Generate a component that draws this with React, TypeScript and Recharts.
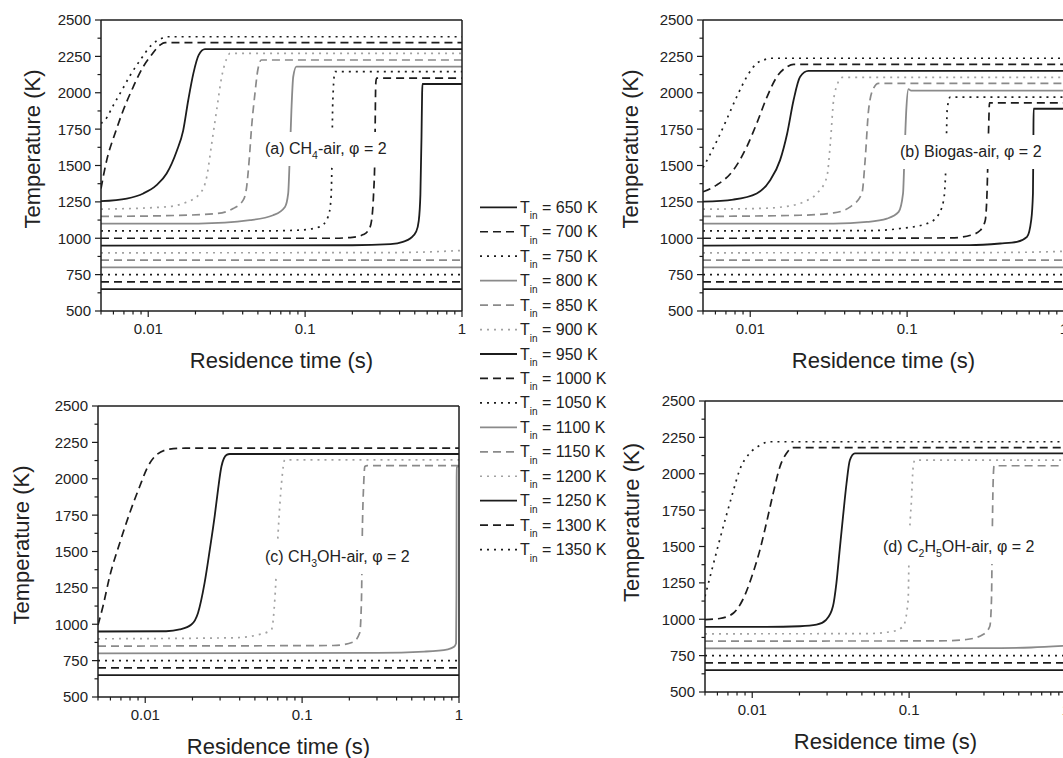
import { LineChart, Line, XAxis, YAxis, Label } from "recharts";

type Pt = [number, number];

// inlet temperatures, one curve each (K)
const T_IN = [650, 700, 750, 800, 850, 900, 950, 1000, 1050, 1100, 1150, 1200, 1250, 1300, 1350];

const X_TICKS = [
  0.005, 0.006, 0.007, 0.008, 0.009, 0.01, 0.02, 0.03, 0.04, 0.05, 0.06, 0.07, 0.08, 0.09,
  0.1, 0.2, 0.3, 0.4, 0.5, 0.6, 0.7, 0.8, 0.9, 1,
];
const X_LABELS = [0.01, 0.1, 1];
const Y_TICKS = [
  500, 625, 750, 875, 1000, 1125, 1250, 1375, 1500, 1625, 1750, 1875, 2000, 2125, 2250, 2375, 2500,
];
const Y_LABELS = [500, 750, 1000, 1250, 1500, 1750, 2000, 2250, 2500];

// [residence time (s), temperature (K)], indexed like T_IN
const CH4_AIR: Pt[][] = [
  [[0.005, 650], [1, 650]],
  [[0.005, 700], [1, 700]],
  [[0.005, 750], [1, 750]],
  [[0.005, 800], [1, 800]],
  [[0.005, 850], [1, 850]],
  [[0.005, 900], [0.3, 901], [0.6, 906], [1, 916]],
  [[0.005, 950], [0.2, 952], [0.35, 960], [0.42, 975], [0.47, 1000], [0.51, 1045], [0.53, 1120], [0.543, 1300], [0.552, 1700], [0.557, 2000], [0.56, 2060], [1, 2060]],
  [[0.005, 1000], [0.15, 1000], [0.2, 1006], [0.235, 1025], [0.255, 1060], [0.265, 1120], [0.273, 1300], [0.278, 1540], [0.282, 2060], [0.285, 2100], [1, 2100]],
  [[0.005, 1050], [0.06, 1051], [0.093, 1056], [0.124, 1078], [0.14, 1147], [0.146, 1262], [0.148, 1470], [0.15, 1930], [0.155, 2145], [1, 2145]],
  [[0.005, 1100], [0.021, 1101], [0.0445, 1124], [0.0625, 1158], [0.0744, 1215], [0.078, 1308], [0.0797, 1537], [0.0818, 1881], [0.084, 2110], [0.088, 2180], [1, 2180]],
  [[0.005, 1150], [0.013, 1155], [0.0273, 1170], [0.0348, 1204], [0.0403, 1262], [0.0424, 1353], [0.044, 1537], [0.0456, 1766], [0.0479, 1996], [0.05, 2160], [0.0527, 2225], [1, 2225]],
  [[0.005, 1200], [0.0131, 1216], [0.0167, 1239], [0.0214, 1308], [0.0236, 1422], [0.0254, 1652], [0.0273, 1881], [0.0294, 2110], [0.0315, 2230], [0.0332, 2270], [1, 2270]],
  [[0.005, 1255], [0.0073, 1273], [0.0093, 1308], [0.0113, 1365], [0.0131, 1445], [0.0152, 1600], [0.0167, 1740], [0.018, 1950], [0.0194, 2133], [0.021, 2260], [0.023, 2300], [1, 2300]],
  [[0.005, 1342], [0.00544, 1537], [0.00614, 1720], [0.00694, 1881], [0.00803, 2041], [0.00929, 2179], [0.0103, 2248], [0.0119, 2328], [0.0128, 2345], [1, 2345]],
  [[0.005, 1790], [0.0053, 1812], [0.006, 1915], [0.0068, 2018], [0.0077, 2122], [0.0089, 2225], [0.0105, 2328], [0.0122, 2374], [0.0131, 2385], [1, 2385]],
];

const BIOGAS_AIR: Pt[][] = [
  [[0.005, 650], [1, 650]],
  [[0.005, 700], [1, 700]],
  [[0.005, 750], [1, 750]],
  [[0.005, 800], [1, 800]],
  [[0.005, 850], [1, 850]],
  [[0.005, 900], [0.4, 902], [1, 910]],
  [[0.005, 950], [0.25, 953], [0.393, 964], [0.501, 975], [0.581, 1009], [0.618, 1124], [0.634, 1308], [0.638, 1650], [0.64, 1890], [1, 1890]],
  [[0.005, 1000], [0.19, 1002], [0.254, 1021], [0.293, 1055], [0.315, 1124], [0.323, 1308], [0.331, 1766], [0.335, 1930], [1, 1930]],
  [[0.005, 1050], [0.06, 1053], [0.0906, 1067], [0.134, 1101], [0.155, 1147], [0.171, 1262], [0.177, 1537], [0.18, 1881], [0.188, 1970], [1, 1970]],
  [[0.005, 1100], [0.034, 1101], [0.0555, 1112], [0.0744, 1135], [0.0883, 1181], [0.0942, 1308], [0.096, 1537], [0.0988, 1881], [0.102, 2025], [0.106, 2015], [1, 2015]],
  [[0.005, 1150], [0.0208, 1158], [0.034, 1174], [0.0434, 1216], [0.0515, 1308], [0.054, 1537], [0.0568, 1881], [0.061, 2030], [0.0657, 2065], [1, 2065]],
  [[0.005, 1200], [0.0116, 1205], [0.0163, 1216], [0.0219, 1250], [0.0266, 1308], [0.0308, 1422], [0.0324, 1652], [0.034, 1950], [0.036, 2060], [0.0385, 2105], [1, 2105]],
  [[0.005, 1252], [0.0078, 1266], [0.011, 1308], [0.0134, 1399], [0.0155, 1537], [0.0172, 1720], [0.0189, 1950], [0.0208, 2110], [0.0235, 2150], [1, 2150]],
  [[0.005, 1319], [0.0061, 1365], [0.0078, 1468], [0.0095, 1628], [0.011, 1789], [0.0128, 1972], [0.0148, 2110], [0.0172, 2179], [0.0189, 2195], [1, 2195]],
  [[0.005, 1485], [0.0062, 1680], [0.0072, 1835], [0.0082, 1972], [0.0098, 2133], [0.011, 2202], [0.0122, 2225], [0.0134, 2237], [1, 2237]],
];

const CH3OH_AIR: Pt[][] = [
  [[0.005, 650], [1, 650]],
  [[0.005, 700], [1, 700]],
  [[0.005, 750], [1, 750]],
  [[0.005, 800], [0.3, 803], [0.6, 812], [0.85, 828], [0.93, 845], [0.958, 870], [0.963, 1200], [0.966, 2000], [0.968, 2080], [1, 2085]],
  [[0.005, 850], [0.158, 854], [0.211, 877], [0.233, 941], [0.239, 1170], [0.242, 1627], [0.247, 1970], [0.251, 2084], [0.26, 2090], [1, 2090]],
  [[0.005, 900], [0.0363, 907], [0.0537, 930], [0.0638, 964], [0.067, 1170], [0.0703, 1627], [0.0739, 1970], [0.0776, 2130], [1, 2130]],
  [[0.005, 950], [0.0136, 952], [0.0166, 964], [0.0197, 998], [0.0217, 1078], [0.0239, 1284], [0.0258, 1513], [0.0277, 1741], [0.0291, 1924], [0.0306, 2084], [0.033, 2164], [0.0346, 2170], [1, 2170]],
  [[0.005, 995], [0.00538, 1124], [0.00594, 1330], [0.00688, 1558], [0.00796, 1764], [0.00922, 1947], [0.0104, 2084], [0.0118, 2164], [0.0143, 2203], [0.018, 2210], [1, 2210]],
];

const C2H5OH_AIR: Pt[][] = [
  [[0.005, 650], [1, 650]],
  [[0.005, 700], [1, 700]],
  [[0.005, 750], [1, 750]],
  [[0.005, 800], [0.3, 801], [0.6, 806], [1, 818]],
  [[0.005, 850], [0.15, 851], [0.232, 861], [0.296, 895], [0.327, 952], [0.335, 1134], [0.339, 1591], [0.343, 1933], [0.348, 2055], [1, 2055]],
  [[0.005, 900], [0.0534, 901], [0.079, 917], [0.0917, 952], [0.0986, 1134], [0.1, 1477], [0.1035, 1819], [0.106, 2040], [0.1087, 2093], [1, 2093]],
  [[0.005, 947], [0.0123, 947], [0.0201, 952], [0.0257, 963], [0.0297, 998], [0.0327, 1089], [0.0344, 1249], [0.0361, 1477], [0.0379, 1705], [0.0399, 1933], [0.0419, 2093], [0.0451, 2140], [1, 2140]],
  [[0.005, 998], [0.0062, 1005], [0.0076, 1043], [0.0087, 1134], [0.0101, 1317], [0.0112, 1477], [0.0123, 1659], [0.0136, 1865], [0.015, 2047], [0.0165, 2139], [0.0182, 2180], [1, 2180]],
  [[0.005, 1157], [0.0056, 1362], [0.0062, 1545], [0.0069, 1728], [0.0076, 1887], [0.0083, 2024], [0.0096, 2139], [0.0112, 2195], [0.0129, 2220], [1, 2220]],
];

const INK = "#1c1c1c";
const FONT = "'Liberation Sans', Arial, Helvetica, sans-serif";

// black / grey alternate every three curves: solid, dashed, dotted
function lineStyle(i: number) {
  const grey = Math.floor(i / 3) % 2 === 1;
  const kind = i % 3;
  return {
    stroke: grey ? (kind === 2 ? "#a2a2a2" : "#8a8a8a") : INK,
    strokeWidth: kind === 0 ? 1.8 : 1.7,
    strokeDasharray: kind === 1 ? "8 5" : kind === 2 ? "2 5" : undefined,
  };
}

const PLOT_W = 361;
const PLOT_H = 291;
const AX_L = 100;
const AX_T = 20;
const AX_R = 10;
const AX_B = 70;
const CHART_W = AX_L + PLOT_W + AX_R;
const CHART_H = AX_T + PLOT_H + AX_B;

const tickText = { fontFamily: FONT, fontSize: 15, fill: "#222" };

function BottomTick(p: any) {
  const v = p.payload.value;
  const major = X_LABELS.includes(v);
  return (
    <g>
      <line x1={p.x} x2={p.x} y1={p.y} y2={p.y + (major ? 6 : 3.5)} stroke={INK} strokeWidth={1.2} />
      {major && (
        <text x={p.x} y={p.y + 23} textAnchor="middle" {...tickText}>
          {String(v)}
        </text>
      )}
    </g>
  );
}

function TopTick(p: any) {
  const major = X_LABELS.includes(p.payload.value);
  return <line x1={p.x} x2={p.x} y1={p.y} y2={p.y - (major ? 6 : 3.5)} stroke={INK} strokeWidth={1.2} />;
}

function LeftTick(p: any) {
  const v = p.payload.value;
  const major = Y_LABELS.includes(v);
  return (
    <g>
      <line x1={p.x} x2={p.x - (major ? 6 : 3.5)} y1={p.y} y2={p.y} stroke={INK} strokeWidth={1.2} />
      {major && (
        <text x={p.x - 10} y={p.y} dy="0.36em" textAnchor="end" {...tickText}>
          {String(v)}
        </text>
      )}
    </g>
  );
}

type PanelProps = {
  left: number;
  top: number;
  curves: Pt[][];
  yTitleX: number;
  yTitleShift: number;
};

function Panel({ left, top, curves, yTitleX, yTitleShift }: PanelProps) {
  const frame = { stroke: INK, strokeWidth: 1.5 };
  const ty = AX_T + PLOT_H / 2 + yTitleShift;
  return (
    <div style={{ position: "absolute", left, top }}>
      <LineChart width={CHART_W} height={CHART_H} margin={{ top: 0, right: 0, bottom: 0, left: 0 }}>
        <XAxis
          xAxisId="b"
          dataKey="t"
          type="number"
          scale="log"
          domain={[0.005, 1]}
          allowDataOverflow
          ticks={X_TICKS}
          interval={0}
          tickSize={0}
          tickMargin={0}
          tickLine={false}
          tick={(p: any) => <BottomTick {...p} />}
          axisLine={frame}
          height={AX_B}
        >
          <Label
            content={() => (
              <text
                x={AX_L + PLOT_W / 2}
                y={AX_T + PLOT_H + 57}
                textAnchor="middle"
                fontFamily={FONT}
                fontSize={22}
                fill="#222"
              >
                Residence time (s)
              </text>
            )}
          />
        </XAxis>
        <XAxis
          xAxisId="t"
          orientation="top"
          type="number"
          scale="log"
          domain={[0.005, 1]}
          allowDataOverflow
          ticks={X_TICKS}
          interval={0}
          tickSize={0}
          tickMargin={0}
          tickLine={false}
          tick={(p: any) => <TopTick {...p} />}
          axisLine={frame}
          height={AX_T}
        />
        <YAxis
          yAxisId="l"
          type="number"
          domain={[500, 2500]}
          allowDataOverflow
          ticks={Y_TICKS}
          interval={0}
          tickSize={0}
          tickMargin={0}
          tickLine={false}
          tick={(p: any) => <LeftTick {...p} />}
          axisLine={frame}
          width={AX_L}
        >
          <Label
            content={() => (
              <text
                x={yTitleX}
                y={ty}
                transform={`rotate(-90 ${yTitleX} ${ty})`}
                textAnchor="middle"
                dominantBaseline="central"
                fontFamily={FONT}
                fontSize={22}
                fill="#222"
              >
                Temperature (K)
              </text>
            )}
          />
        </YAxis>
        <YAxis
          yAxisId="r"
          orientation="right"
          type="number"
          domain={[500, 2500]}
          tick={false}
          tickLine={false}
          axisLine={frame}
          width={AX_R}
        />
        {curves.map((pts, i) => (
          <Line
            key={T_IN[i]}
            xAxisId="b"
            yAxisId="l"
            data={pts.map(([t, T]) => ({ t, T }))}
            dataKey="T"
            type="monotone"
            dot={false}
            activeDot={false}
            isAnimationActive={false}
            {...lineStyle(i)}
          />
        ))}
      </LineChart>
    </div>
  );
}

// panel captions on a white box: [text, subscript?]
const NOTES: { x: number; y: number; w: number; parts: [string, boolean][] }[] = [
  { x: 265, y: 154, w: 125, parts: [["(a) CH", false], ["4", true], ["-air, φ = 2", false]] },
  { x: 900, y: 157, w: 147, parts: [["(b) Biogas-air, φ = 2", false]] },
  { x: 265, y: 562, w: 150, parts: [["(c) CH", false], ["3", true], ["OH-air, φ = 2", false]] },
  { x: 883, y: 552, w: 157, parts: [["(d) C", false], ["2", true], ["H", false], ["5", true], ["OH-air, φ = 2", false]] },
];

function Overlay() {
  return (
    <svg
      width={1063}
      height={758}
      style={{ position: "absolute", left: 0, top: 0, pointerEvents: "none" }}
    >
      {NOTES.map((n, k) => {
        let shifted = false;
        return (
          <g key={k}>
            <rect x={n.x - 3} y={n.y - 22} width={n.w + 6} height={34} fill="#fff" />
            <text x={n.x} y={n.y} fontFamily={FONT} fontSize={16} fill="#222">
              {n.parts.map(([s, sub], j) => {
                const dy = sub && !shifted ? 5 : !sub && shifted ? -5 : 0;
                shifted = sub;
                return (
                  <tspan key={j} dy={dy} fontSize={sub ? 10.5 : 16}>
                    {s}
                  </tspan>
                );
              })}
            </text>
          </g>
        );
      })}
      {T_IN.map((t, i) => {
        const y = 207.3 + i * 24.45;
        const st = lineStyle(i);
        return (
          <g key={t}>
            <line x1={480} x2={517} y1={y} y2={y} {...st} />
            <text x={520} y={y + 5.5} fontFamily={FONT} fontSize={16} fill="#222">
              T
              <tspan dy={6.5} fontSize={10}>
                in
              </tspan>
              <tspan dy={-6.5}>{` = ${t} K`}</tspan>
            </text>
          </g>
        );
      })}
    </svg>
  );
}

export default function App() {
  return (
    <div
      style={{
        position: "absolute",
        left: 0,
        top: 0,
        width: 1063,
        height: 758,
        overflow: "hidden",
        background: "#fff",
      }}
    >
      <Panel left={1} top={0} curves={CH4_AIR} yTitleX={31} yTitleShift={-16.5} />
      <Panel left={602.7} top={0} curves={BIOGAS_AIR} yTitleX={27.3} yTitleShift={-16.5} />
      <Panel left={-1.7} top={386} curves={CH3OH_AIR} yTitleX={23.7} yTitleShift={-6.5} />
      <Panel left={605.3} top={380.5} curves={C2H5OH_AIR} yTitleX={26.7} yTitleShift={-24} />
      <Overlay />
    </div>
  );
}
